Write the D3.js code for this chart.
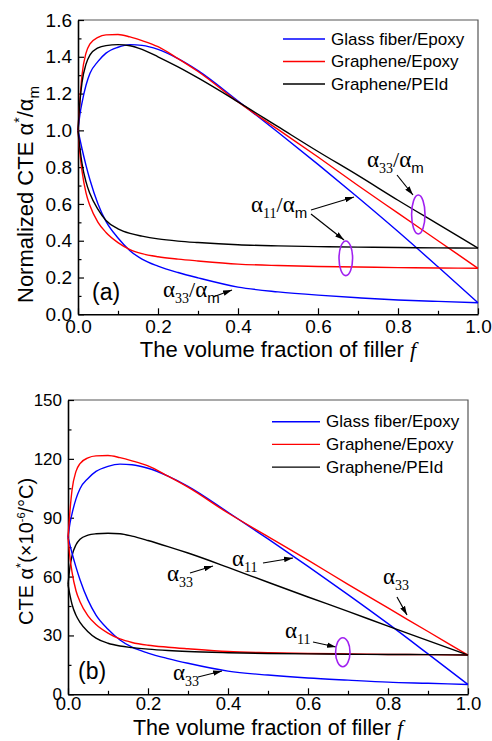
<!DOCTYPE html>
<html><head><meta charset="utf-8">
<script src="https://cdn.jsdelivr.net/npm/d3@7/dist/d3.min.js"></script>
<style>body{margin:0;background:#fff}</style>
</head><body>
<svg id="c" width="492" height="741" xmlns="http://www.w3.org/2000/svg"></svg>
<script>
// ---------- data ----------
const fracs = [0,0.005,0.01,0.02,0.03,0.05,0.07,0.1,0.13,0.16,0.2,0.25,0.3,0.4,0.5,0.6,0.7,0.8,0.9,1.0];
const seriesNames = ["Glass fiber/Epoxy","Graphene/Epoxy","Graphene/PEId"];
const seriesColors = ["#0000ff","#ff0000","#000000"];

// panel (a): normalized CTE
const aGlassUpper = [1.0,1.09,1.15,1.245,1.31,1.375,1.42,1.452,1.466,1.462,1.44,1.39,1.325,1.16,0.99,0.815,0.635,0.45,0.258,0.063];
const aGrEpUpper  = [1.0,1.17,1.30,1.42,1.47,1.506,1.519,1.521,1.508,1.488,1.455,1.39,1.32,1.155,1.005,0.855,0.70,0.55,0.40,0.25];
const aGrPEUpper  = [1.0,1.16,1.26,1.36,1.41,1.448,1.461,1.466,1.46,1.44,1.40,1.345,1.285,1.155,1.02,0.885,0.755,0.62,0.49,0.36];
const aGlassLower = [1.0,0.95,0.9,0.81,0.73,0.6,0.505,0.415,0.346,0.3,0.262,0.227,0.198,0.148,0.122,0.104,0.09,0.078,0.07,0.063];
const aGrEpLower  = [1.0,0.87,0.78,0.66,0.59,0.50,0.445,0.39,0.352,0.33,0.313,0.300,0.29,0.273,0.265,0.26,0.257,0.254,0.252,0.25];
const aGrPELower  = [1.0,0.9,0.82,0.72,0.655,0.57,0.51,0.465,0.44,0.425,0.41,0.398,0.39,0.378,0.372,0.368,0.365,0.363,0.361,0.36];

// panel (b): CTE (x10^-6/°C)
const bGlassUpper = [80,87.2,92,99.6,104.8,110,113.6,116.2,117.3,117,115.2,111.2,106,92.8,79.2,65.2,50.8,36,20.6,5.0];
const bGrEpUpper  = [80,93.6,104,113.6,117.6,120.5,121.5,121.7,120.6,119,116.4,111.2,105.6,92.4,80.4,68.4,56,44,32,20];
const bGrPEUpper  = [56,65,70.6,76.2,79,81.1,81.8,82.1,81.8,80.6,78.4,75.3,72,64.7,57.1,49.6,42.3,34.7,27.4,20];
const bGlassLower = [80,76,72,64.8,58.4,48,40.4,33.2,27.7,24,21,18.2,15.8,11.8,9.8,8.3,7.2,6.2,5.6,5.0];
const bGrEpLower  = [80,69.6,62.4,52.8,47.2,40,35.6,31.2,28.2,26.4,25,24,23.2,21.8,21.2,20.8,20.6,20.3,20.2,20];
const bGrPELower  = [56,50.4,45.9,40.3,36.7,31.9,28.6,26,24.6,23.8,23,22.3,21.8,21.2,20.8,20.6,20.4,20.3,20.2,20];

const xTicksMajor = [0,0.2,0.4,0.6,0.8,1.0];
const xTicksMinor = [0.1,0.3,0.5,0.7,0.9];
const aYTicksMajor = [0,0.2,0.4,0.6,0.8,1.0,1.2,1.4,1.6];
const aYTicksMinor = [0.1,0.3,0.5,0.7,0.9,1.1,1.3,1.5];
const bYTicksMajor = [0,30,60,90,120,150];
const bYTicksMinor = [15,45,75,105,135];

// ---------- drawing ----------
const svg = d3.select("#c");
const SANS = "Arial, 'Liberation Sans', Helvetica, sans-serif";
const SERIF = "'Times New Roman', 'Liberation Serif', serif";

svg.append("defs").append("marker")
  .attr("id","arr").attr("viewBox","0 0 10 6").attr("refX",10).attr("refY",3)
  .attr("markerWidth",9).attr("markerHeight",6).attr("markerUnits","userSpaceOnUse")
  .attr("orient","auto")
  .append("path").attr("d","M0,0 L10,3 L0,6 Z").attr("fill","#000");

function panel(cfg){
  const g = svg.append("g");
  const x = d3.scaleLinear().domain([0,1]).range([cfg.x0,cfg.x1]);
  const y = d3.scaleLinear().domain(cfg.yDomain).range([cfg.y1,cfg.y0]);

  g.append("path").attr("d",`M${cfg.x0},${cfg.y0}H${cfg.x1}V${cfg.y1}`)
    .attr("fill","none").attr("stroke","#555").attr("stroke-width",1.2);

  const xa = g.append("g").attr("transform",`translate(0,${cfg.y1})`)
    .call(d3.axisBottom(x).tickValues(xTicksMajor).tickSizeInner(-6).tickSizeOuter(0).tickPadding(cfg.xPad).tickFormat(d3.format(".1f")));
  g.append("g").attr("transform",`translate(0,${cfg.y1})`)
    .call(d3.axisBottom(x).tickValues(xTicksMinor).tickSizeInner(-3.5).tickSizeOuter(0).tickFormat(""))
    .select(".domain").remove();
  const ya = g.append("g").attr("transform",`translate(${cfg.x0},0)`)
    .call(d3.axisLeft(y).tickValues(cfg.yMajor).tickSizeInner(-6).tickSizeOuter(0).tickPadding(6).tickFormat(cfg.yFmt));
  g.append("g").attr("transform",`translate(${cfg.x0},0)`)
    .call(d3.axisLeft(y).tickValues(cfg.yMinor).tickSizeInner(-3.5).tickSizeOuter(0).tickFormat(""))
    .select(".domain").remove();
  g.selectAll(".domain").attr("stroke","#000").attr("stroke-width",1.6);
  g.selectAll(".tick line").attr("stroke","#000").attr("stroke-width",1.2);
  xa.selectAll("text").attr("font-family",SANS).attr("font-size",cfg.xtFont).attr("fill","#000");
  ya.selectAll("text").attr("font-family",SANS).attr("font-size",cfg.ytFont).attr("fill","#000");

  const line = d3.line().x((d,i)=>x(fracs[i])).y(d=>y(d)).curve(d3.curveMonotoneX);
  cfg.series.forEach(s=>{
    g.append("path").attr("d",line(s.vals)).attr("fill","none")
      .attr("stroke",s.color).attr("stroke-width",1.4);
  });

  seriesNames.forEach((n,i)=>{
    const ly = cfg.legY + i*cfg.legDy;
    g.append("line").attr("x1",cfg.legX).attr("x2",cfg.legX+cfg.legLen)
      .attr("y1",ly).attr("y2",ly).attr("stroke",seriesColors[i]).attr("stroke-width",1.4);
    g.append("text").attr("x",cfg.legX+cfg.legLen+6).attr("y",ly+5.5)
      .attr("font-family",SANS).attr("font-size",17).text(n);
  });

  const xt = g.append("text").attr("x",(cfg.x0+cfg.x1)/2).attr("y",cfg.xTitleY)
    .attr("text-anchor","middle").attr("font-family",SANS).attr("font-size",cfg.xTitleFont);
  xt.append("tspan").text("The volume fraction of filler ");
  xt.append("tspan").attr("font-family",SERIF).attr("font-style","italic").text("f");
  return {g,x,y};
}

function richText(g, x, y, parts, attrs){
  const t = g.append("text").attr("x",x).attr("y",y);
  if(attrs) Object.entries(attrs).forEach(([k,v])=>t.attr(k,v));
  parts.forEach(p=>{
    const s = t.append("tspan").text(p.t)
      .attr("font-family",p.f||SANS).attr("font-size",p.s||22);
    if(p.dy) s.attr("dy",p.dy);
    if(p.i) s.attr("font-style","italic");
  });
  return t;
}
function arrow(g,x1,y1,x2,y2){
  g.append("line").attr("x1",x1).attr("y1",y1).attr("x2",x2).attr("y2",y2)
    .attr("stroke","#000").attr("stroke-width",1.2).attr("marker-end","url(#arr)");
}
function ell(g,cx,cy,rx,ry){
  g.append("ellipse").attr("cx",cx).attr("cy",cy).attr("rx",rx).attr("ry",ry)
    .attr("fill","none").attr("stroke","#a020f0").attr("stroke-width",1.6);
}
function alphaSub(g,x,y,sub,subM){
  const parts=[{t:"α",f:SERIF,s:23},{t:sub,f:SERIF,s:14,dy:6}];
  if(subM){ parts.push({t:"/",f:SERIF,s:22,dy:-6},{t:"α",f:SERIF,s:23},{t:"m",f:SANS,s:15,dy:6}); }
  return richText(g,x,y,parts);
}

// ----- panel (a) -----
const A = panel({
  x0:78,x1:478,y0:20,y1:314.3,yDomain:[0,1.6],yMajor:aYTicksMajor,yMinor:aYTicksMinor,
  yFmt:d3.format(".1f"),xtFont:19,ytFont:19,xPad:5,xTitleY:357,xTitleFont:22,
  legX:283,legLen:42,legY:39,legDy:22.5,
  series:[
    {vals:aGlassUpper,color:seriesColors[0]},{vals:aGrEpUpper,color:seriesColors[1]},{vals:aGrPEUpper,color:seriesColors[2]},
    {vals:aGlassLower,color:seriesColors[0]},{vals:aGrEpLower,color:seriesColors[1]},{vals:aGrPELower,color:seriesColors[2]}
  ]
});
richText(A.g,0,0,[
  {t:"Normalized CTE α",s:22},{t:"*",s:14,dy:-9},{t:"/α",s:22,dy:9},{t:"m",s:15,dy:6}
],{transform:"translate(33,303) rotate(-90)"});
richText(A.g,92,300,[{t:"(a)",s:23}]);
alphaSub(A.g,367,167,"33",true);
arrow(A.g,397,175,413,195);
ell(A.g,418.3,214.5,6.7,19.5);
alphaSub(A.g,251,212,"11",true);
arrow(A.g,311,210,354,197);
arrow(A.g,311,214,344,240);
ell(A.g,345.8,258.3,6.8,17.3);
alphaSub(A.g,163,297,"33",true);
arrow(A.g,213,297,232,290);

// ----- panel (b) -----
const B = panel({
  x0:68,x1:468,y0:400,y1:694.3,yDomain:[0,150],yMajor:bYTicksMajor,yMinor:bYTicksMinor,
  yFmt:d3.format("d"),xtFont:18.5,ytFont:17,xPad:3,xTitleY:735,xTitleFont:21.5,
  legX:272,legLen:48,legY:421.7,legDy:22.7,
  series:[
    {vals:bGlassUpper,color:seriesColors[0]},{vals:bGrEpUpper,color:seriesColors[1]},{vals:bGrPEUpper,color:seriesColors[2]},
    {vals:bGlassLower,color:seriesColors[0]},{vals:bGrEpLower,color:seriesColors[1]},{vals:bGrPELower,color:seriesColors[2]}
  ]
});
richText(B.g,0,0,[
  {t:"CTE α",s:20},{t:"*",s:13,dy:-8},{t:"(×10",s:20,dy:8},{t:"-6",s:11,dy:-8},{t:"/°C)",s:20,dy:8}
],{transform:"translate(33,625) rotate(-90)"});
richText(B.g,78,679,[{t:"(b)",s:23}]);
alphaSub(B.g,167,581,"33");
arrow(B.g,190,573,213,566);
alphaSub(B.g,173,680,"33");
arrow(B.g,198,677,222,671);
alphaSub(B.g,232,566,"11");
arrow(B.g,263,563,293,558);
alphaSub(B.g,383,584,"33");
arrow(B.g,397,597,407,615);
alphaSub(B.g,285,638,"11");
arrow(B.g,313,642,336,647);
ell(B.g,342.8,652.2,7.2,14.5);
</script>
</body></html>
